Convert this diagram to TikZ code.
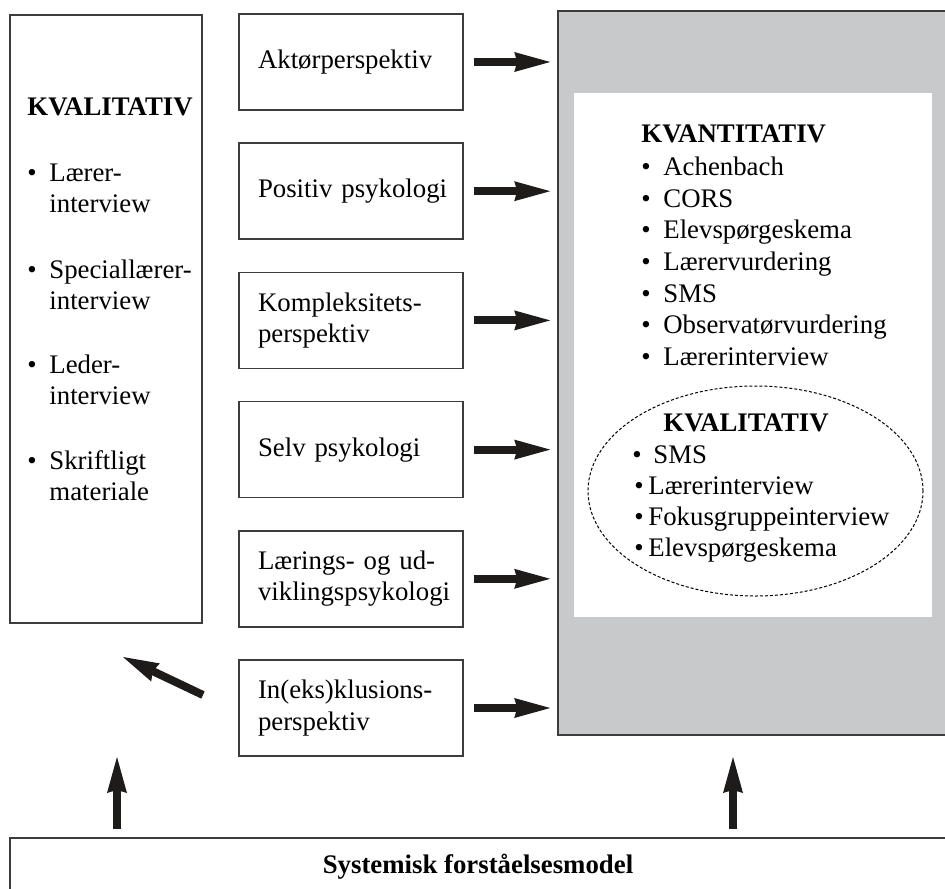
\documentclass[tikz,border=0pt]{standalone}
\usepackage{fontspec}
\setmainfont{Liberation Serif}
\usetikzlibrary{arrows.meta}
\usetikzlibrary{positioning,shapes.geometric}
\definecolor{panelgray}{RGB}{200,201,203}
\definecolor{boxline}{RGB}{60,60,60}
\definecolor{arrowink}{RGB}{30,27,27}
\newcommand{\blt}[1]{\makebox[#1][l]{\textbullet}}
\hyphenpenalty=10000
\exhyphenpenalty=10000

\begin{document}
\begin{tikzpicture}[x=0.5pt,y=-0.5pt,font=\fontsize{13.4}{15.75}\selectfont,
  persp/.style={draw=boxline,line width=0.8pt,minimum width=112pt,minimum height=48pt,text width=93pt,align=left,inner sep=0pt},
  item/.style={anchor=base west,inner sep=0pt},
  fat/.style={-{Stealth[length=18pt,width=10pt,inset=1.5pt,line width=0pt]},line width=4pt,draw=arrowink},
  node distance=15.8pt]
\useasboundingbox (0,0) rectangle (945,888);
\clip (0,0) rectangle (945,888);

% right panel
\node[draw=boxline,line width=0.8pt,fill=panelgray,minimum width=196pt,minimum height=362pt,inner sep=0pt] (maal) at (754,373) {};
\node[fill=white,minimum width=179pt,minimum height=262pt,inner sep=0pt] (kvant) at (753,355) {};
\node[ellipse,draw=black,line width=0.5pt,dash pattern=on 1.5pt off 1pt,minimum width=167.5pt,minimum height=105pt,inner sep=0pt] (kvalell) at (755.5,491) {};

% left panel
\node[draw=boxline,line width=0.8pt,minimum width=96pt,minimum height=304pt,inner sep=0pt] (kvalbox) at (106,319) {};

% perspektiver
\node[persp] (b1) at (351,62) {Aktørperspektiv};
\node[persp,below=of b1] (b2) {\mbox{Positiv psykologi}};
\node[persp,below=of b2] (b3) {Kompleksitets-\\perspektiv};
\node[persp,below=of b3] (b4) {\mbox{Selv psykologi}};
\node[persp,below=of b4] (b5) {\mbox{Lærings- og ud-}\\viklingspsykologi};
\node[persp,below=of b5] (b6) {In(eks)klusions-\\perspektiv};

\draw[fat,shorten <=5pt,shorten >=3.5pt] (b1.east) -- (b1.east -| maal.west);
\draw[fat,shorten <=5pt,shorten >=3.5pt] (b2.east) -- (b2.east -| maal.west);
\draw[fat,shorten <=5pt,shorten >=3.5pt] (b3.east) -- (b3.east -| maal.west);
\draw[fat,shorten <=5pt,shorten >=3.5pt] (b4.east) -- (b4.east -| maal.west);
\draw[fat,shorten <=5pt,shorten >=3.5pt] (b5.east) -- (b5.east -| maal.west);
\draw[fat,shorten <=5pt,shorten >=3.5pt] (b6.east) -- (b6.east -| maal.west);

% bund
\node[draw=boxline,line width=0.8pt,minimum width=468pt,minimum height=29pt,inner sep=0pt,font=\fontsize{13.4}{15.75}\selectfont\bfseries] (sfm) at (478,867) {Systemisk forståelsesmodel};

\coordinate (upl) at (117,757);
\coordinate (upr) at (733,757);
\draw[fat,shorten <=4pt] (upl |- sfm.north) -- (upl);
\draw[fat,shorten <=4pt] (upr |- sfm.north) -- (upr);

\coordinate (diagtail) at (203,695);
\coordinate (diagtip) at (123,657);
\draw[fat] (diagtail) -- (diagtip);

% kvalitativ venstre
\node[item] (kvl) at (27,115) {\textbf{KVALITATIV}};
\node[item] (kvl1) at (27,181) {\blt{11pt}Lærer-};
\node[item] (kvl1b) at (49,212) {interview};
\node[item] (kvl2) at (27,278) {\blt{11pt}Speciallærer-};
\node[item] (kvl2b) at (49,309) {interview};
\node[item] (kvl3) at (27,373) {\blt{11pt}Leder-};
\node[item] (kvl3b) at (49,404) {interview};
\node[item] (kvl4) at (27,469) {\blt{11pt}Skriftligt};
\node[item] (kvl4b) at (49,500) {materiale};

% kvantitativ
\node[item] (kvn) at (641,142) {\textbf{KVANTITATIV}};
\node[item] (kvn1) at (641,175) {\blt{11pt}Achenbach};
\node[item] (kvn2) at (641,207) {\blt{11pt}CORS};
\node[item] (kvn3) at (641,238) {\blt{11pt}Elevspørgeskema};
\node[item] (kvn4) at (641,270) {\blt{11pt}Lærervurdering};
\node[item] (kvn5) at (641,302) {\blt{11pt}SMS};
\node[item] (kvn6) at (641,333) {\blt{11pt}Observatørvurdering};
\node[item] (kvn7) at (641,365) {\blt{11pt}Lærerinterview};

% kvalitativ i ellipsen
\node[item] (kve) at (663,431) {\textbf{KVALITATIV}};
\node[item] (kve1) at (632,463) {\blt{10.5pt}SMS};
\node[item] (kve2) at (634,494) {\blt{7pt}Lærerinterview};
\node[item] (kve3) at (634,525) {\blt{7pt}Fokusgruppeinterview};
\node[item] (kve4) at (634,556) {\blt{7pt}Elevspørgeskema};
\end{tikzpicture}
\end{document}
